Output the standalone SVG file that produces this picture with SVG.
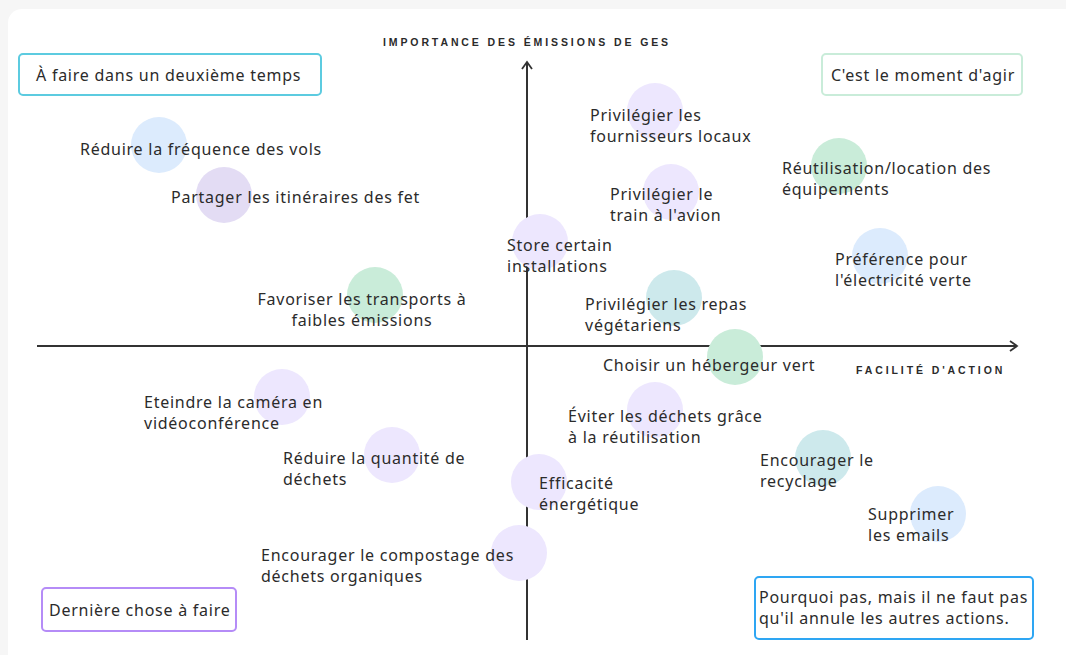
<svg xmlns="http://www.w3.org/2000/svg" width="1066" height="655" viewBox="0 0 1066 655">
<defs>
<style>
.t{font-family:"Noto Sans","Liberation Sans",sans-serif;font-size:16px;letter-spacing:0.75px;fill:#2b2b2b}
.ax{font-family:"Liberation Sans",sans-serif;font-size:10.5px;font-weight:bold;letter-spacing:2.9px;fill:#2b2b2b}
.axis{stroke:#333;stroke-width:2;fill:none}
.blue{fill:#dcebfd}
.purple{fill:#ede7fe}
.purple2{fill:#e3dcf4}
.green{fill:#c9ecd9}
.teal{fill:#cde9ec}
.box{fill:#fff;stroke-width:2}
</style>
<marker id="arr" viewBox="0 0 12 12" refX="10" refY="6" markerWidth="12" markerHeight="12" markerUnits="userSpaceOnUse" orient="auto">
<path d="M3,1 L10,6 L3,11" fill="none" stroke="#333" stroke-width="1.8"/>
</marker>
</defs>
<rect x="0" y="0" width="1066" height="655" fill="#f6f6f6"/>
<rect x="8" y="9" width="1080" height="670" rx="14" fill="#fff"/>

<g id="axes">
<line class="axis" x1="527" y1="640" x2="527" y2="62" marker-end="url(#arr)"/>
<line class="axis" x1="37" y1="346" x2="1017" y2="346" marker-end="url(#arr)"/>
<text class="ax" x="527" y="46" text-anchor="middle">IMPORTANCE DES ÉMISSIONS DE GES</text>
<text class="ax" x="856" y="374">FACILITÉ D'ACTION</text>
</g>

<g id="box-deuxieme"><rect class="box" x="19" y="54" width="302" height="41" rx="4" stroke="#5ccbe0"/><text class="t" x="36" y="81">À faire dans un deuxième temps</text></g>
<g id="box-agir"><rect class="box" x="822" y="54" width="200" height="41" rx="4" stroke="#c9ecd9"/><text class="t" x="831" y="81">C'est le moment d'agir</text></g>
<g id="box-derniere"><rect class="box" x="42" y="588" width="194" height="43" rx="4" stroke="#b58cf7"/><text class="t" x="49" y="616">Dernière chose à faire</text></g>
<g id="box-pourquoi"><rect class="box" x="755" y="577" width="278" height="62" rx="4" stroke="#2ea6f3"/><text class="t" x="759" y="603">Pourquoi pas, mais il ne faut pas</text><text class="t" x="759" y="624">qu'il annule les autres actions.</text></g>

<g id="n-vols"><circle class="blue" cx="159" cy="145" r="28"/><text class="t" x="80" y="155">Réduire la fréquence des vols</text></g>
<g id="n-itineraires"><circle class="purple2" cx="224" cy="195" r="28"/><text class="t" x="171" y="203">Partager les itinéraires des fet</text></g>
<g id="n-transports"><circle class="green" cx="375" cy="295" r="28"/><text class="t" x="362" y="305" text-anchor="middle">Favoriser les transports à</text><text class="t" x="362" y="326" text-anchor="middle">faibles émissions</text></g>
<g id="n-camera"><circle class="purple" cx="282" cy="397" r="28"/><text class="t" x="144" y="408">Eteindre la caméra en</text><text class="t" x="144" y="429">vidéoconférence</text></g>
<g id="n-quantite"><circle class="purple" cx="392" cy="455" r="28"/><text class="t" x="283" y="464">Réduire la quantité de</text><text class="t" x="283" y="485">déchets</text></g>
<g id="n-efficacite"><circle class="purple" cx="539" cy="482" r="28"/><text class="t" x="539" y="489">Efficacité</text><text class="t" x="539" y="510">énergétique</text></g>
<g id="n-compostage"><circle class="purple" cx="519" cy="553" r="28"/><text class="t" x="261" y="561">Encourager le compostage des</text><text class="t" x="261" y="582">déchets organiques</text></g>
<g id="n-fournisseurs"><circle class="purple" cx="655" cy="111" r="28"/><text class="t" x="590" y="121">Privilégier les</text><text class="t" x="590" y="142">fournisseurs locaux</text></g>
<g id="n-train"><circle class="purple" cx="671" cy="192" r="28"/><text class="t" x="610" y="200">Privilégier le</text><text class="t" x="610" y="221">train à l'avion</text></g>
<g id="n-store"><circle class="purple" cx="540" cy="242" r="28"/><text class="t" x="507" y="251">Store certain</text><text class="t" x="507" y="272">installations</text></g>
<g id="n-repas"><circle class="teal" cx="674" cy="298" r="28"/><text class="t" x="585" y="310">Privilégier les repas</text><text class="t" x="585" y="331">végétariens</text></g>
<g id="n-hebergeur"><circle class="green" cx="735" cy="357" r="28"/><text class="t" x="603" y="371">Choisir un hébergeur vert</text></g>
<g id="n-reutilisation-dechets"><circle class="purple" cx="655" cy="410" r="28"/><text class="t" x="568" y="422">Éviter les déchets grâce</text><text class="t" x="568" y="443">à la réutilisation</text></g>
<g id="n-recyclage"><circle class="teal" cx="823" cy="458" r="28"/><text class="t" x="760" y="466">Encourager le</text><text class="t" x="760" y="487">recyclage</text></g>
<g id="n-emails"><circle class="blue" cx="938" cy="514" r="28"/><text class="t" x="868" y="520">Supprimer</text><text class="t" x="868" y="541">les emails</text></g>
<g id="n-equipements"><circle class="green" cx="839" cy="166" r="28"/><text class="t" x="782" y="174">Réutilisation/location des</text><text class="t" x="782" y="195">équipements</text></g>
<g id="n-electricite"><circle class="blue" cx="880" cy="256" r="28"/><text class="t" x="835" y="265">Préférence pour</text><text class="t" x="835" y="286">l'électricité verte</text></g>
</svg>
